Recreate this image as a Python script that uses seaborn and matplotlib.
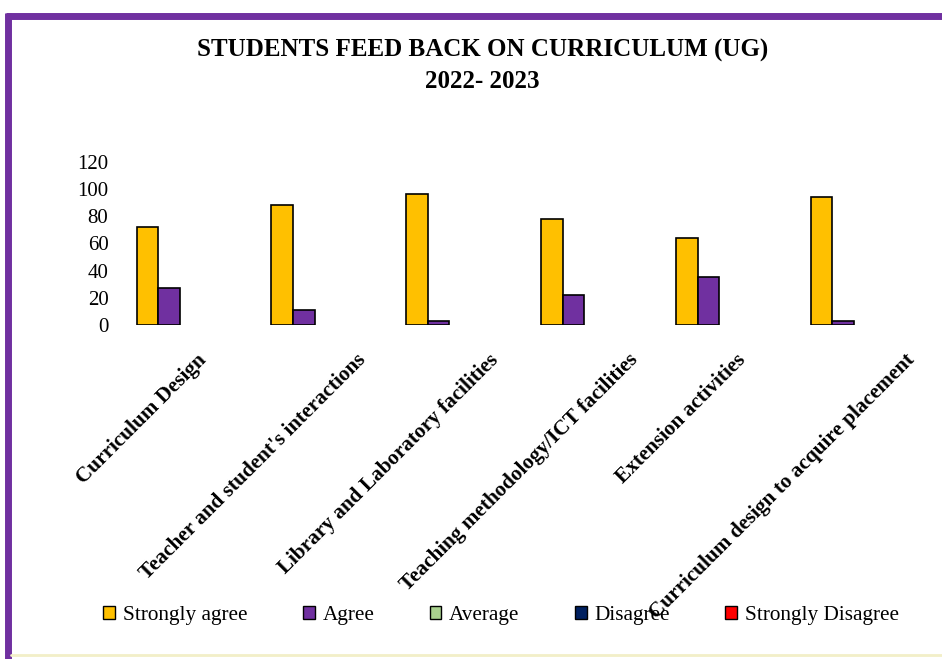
import matplotlib
matplotlib.use("Agg")
import matplotlib.pyplot as plt
from matplotlib.lines import Line2D
from matplotlib.patches import Patch
from matplotlib.transforms import ScaledTranslation
import seaborn as sns
import pandas as pd

# Data
categories = ["Curriculum Design", "Teacher and student's interactions",
              "Library and Laboratory facilities", "Teaching methodology/ICT facilities",
              "Extension activities", "Curriculum design to acquire placement"]
series = ["Strongly agree", "Agree", "Average", "Disagree", "Strongly Disagree"]
strongly_agree = [72, 88, 96, 78, 64, 94]
agree = [27, 11, 3, 22, 35, 3]
average = [0, 0, 0, 0, 0, 0]
disagree = [0, 0, 0, 0, 0, 0]
strongly_disagree = [0, 0, 0, 0, 0, 0]
colors = ["#FFC000", "#7030A0", "#A9D18E", "#002060", "#FF0000"]

values = [strongly_agree, agree, average, disagree, strongly_disagree]
rows = []
for s, vals in zip(series, values):
    for c, v in zip(categories, vals):
        rows.append({"category": c, "response": s, "value": v})
df = pd.DataFrame(rows)

sns.set_style("white")
plt.rcParams["font.family"] = ["Liberation Serif", "DejaVu Serif"]
plt.rcParams["text.color"] = "black"
plt.rcParams["ytick.color"] = "black"

fig = plt.figure(figsize=(9.42, 6.59), dpi=100)
ax = fig.add_axes([0.1306, 0.5068, 0.859, 0.2478])

sns.barplot(data=df, x="category", y="value", hue="response", hue_order=series,
            palette=colors, saturation=1, edgecolor="black", linewidth=1.2, width=0.8,
            dodge=True, ax=ax, legend=False)

# empty series should not leave a flat outline on the baseline
for p in ax.patches:
    if p.get_height() == 0:
        p.set_visible(False)

ax.set_ylim(0, 120)
ax.set_yticks(range(0, 121, 20))
ax.set_xlim(-0.5, len(categories) - 0.5)
ax.set_xlabel("")
ax.set_ylabel("")
for sp in ax.spines.values():
    sp.set_visible(False)
ax.tick_params(axis="y", labelsize=15, length=0, pad=10.5)
ax.set_xticks(range(len(categories)))
ax.set_xticklabels([])
ax.tick_params(axis="x", length=0)

# rotated category labels, shifted a bit more the longer they are (like the original)
renderer = fig.canvas.get_renderer()
for i, cat in enumerate(categories):
    tmp = fig.text(0, 0, cat, fontsize=15.3, fontweight="bold")
    w = tmp.get_window_extent(renderer).width
    tmp.remove()
    dx = (-25 + 0.178 * w) / 100
    ax.text(i, 0, cat, rotation=45, ha="right", va="top", rotation_mode="anchor",
            fontsize=15.3, fontweight="bold", zorder=5,
            transform=ax.transData + ScaledTranslation(dx, -0.25, fig.dpi_scale_trans))

# title
fig.text(0.512, 0.924, "STUDENTS FEED BACK ON CURRICULUM (UG)", ha="center", va="center",
         fontsize=18, fontweight="bold")
fig.text(0.512, 0.876, "2022- 2023", ha="center", va="center",
         fontsize=18, fontweight="bold")

# legend
handles = [Patch(facecolor=c, edgecolor="black", linewidth=1.0, label=s)
           for s, c in zip(series, colors)]
fig.legend(handles=handles, loc="center", bbox_to_anchor=(0.532, 0.066), ncol=5,
           frameon=False, fontsize=15.3, handlelength=0.56, handleheight=0.56,
           handletextpad=0.37, columnspacing=2.6, borderpad=0.2)

# frame lines of the original picture
fig.add_artist(Line2D([0.006, 1.0], [0.976, 0.976], transform=fig.transFigure,
                      color="#7030A0", linewidth=5, solid_capstyle="butt"))
fig.add_artist(Line2D([0.009, 0.009], [0.0, 0.98], transform=fig.transFigure,
                      color="#7030A0", linewidth=5, solid_capstyle="butt"))
fig.add_artist(Line2D([0.012, 1.0], [0.006, 0.006], transform=fig.transFigure,
                      color="#F2EFC8", linewidth=2))

fig.savefig("out.png", dpi=100)
